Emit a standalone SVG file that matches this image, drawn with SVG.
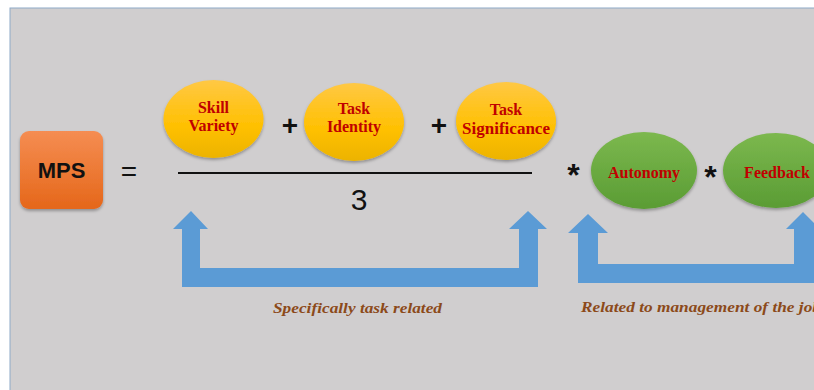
<svg xmlns="http://www.w3.org/2000/svg" width="814" height="390" viewBox="0 0 814 390">
<defs>
<linearGradient id="gOrange" x1="0" y1="0" x2="0" y2="1"><stop offset="0" stop-color="#f58d52"/><stop offset="1" stop-color="#e5671a"/></linearGradient>
<linearGradient id="gYellow" x1="0" y1="0" x2="0" y2="1"><stop offset="0" stop-color="#ffc844"/><stop offset="0.6" stop-color="#ffc000"/><stop offset="1" stop-color="#ecb300"/></linearGradient>
<linearGradient id="gGreen" x1="0" y1="0" x2="0" y2="1"><stop offset="0" stop-color="#7cb84e"/><stop offset="1" stop-color="#5a9c34"/></linearGradient>
<filter id="sh" x="-20%" y="-20%" width="140%" height="150%"><feGaussianBlur in="SourceAlpha" stdDeviation="1.5"/><feOffset dy="2" result="b"/><feFlood flood-color="#000" flood-opacity="0.3"/><feComposite in2="b" operator="in"/><feMerge><feMergeNode/><feMergeNode in="SourceGraphic"/></feMerge></filter>
</defs>
<style>
.node-txt{font-family:"Liberation Serif","Times New Roman",serif;font-weight:bold;font-size:16px;fill:#c00000;text-anchor:middle}
.op{font-family:"Liberation Sans",Arial,sans-serif;fill:#111;text-anchor:middle}
.lbl{font-family:"Liberation Serif","Times New Roman",serif;font-weight:bold;font-style:italic;font-size:15px;fill:#8c4a1a}
.arrow{fill:#5b9bd5}
</style>
<rect x="0" y="0" width="814" height="390" fill="#ffffff"/>
<rect x="10" y="8" width="806" height="384" fill="#d0cecf" stroke="#8ea9c8" stroke-width="1"/>

<g id="mps">
<rect x="20" y="131" width="83" height="78" rx="9" fill="url(#gOrange)" filter="url(#sh)"/>
<text x="61.5" y="178" font-family="'Liberation Sans',Arial,sans-serif" font-weight="bold" font-size="22" text-anchor="middle" fill="#111">MPS</text>
</g>

<g id="equals"><text class="op" x="129" y="181" font-size="28">=</text></g>

<g id="skill-variety">
<ellipse cx="213.5" cy="119" rx="50" ry="39" fill="url(#gYellow)" filter="url(#sh)"/>
<text class="node-txt" x="213.5" y="113" textLength="31" lengthAdjust="spacingAndGlyphs">Skill</text>
<text class="node-txt" x="213.5" y="130.5">Variety</text>
</g>
<g id="plus1"><text class="op" x="290" y="135" font-size="28" font-weight="bold">+</text></g>
<g id="task-identity">
<ellipse cx="354" cy="122" rx="50" ry="39" fill="url(#gYellow)" filter="url(#sh)"/>
<text class="node-txt" x="354" y="113.5">Task</text>
<text class="node-txt" x="354" y="131.5">Identity</text>
</g>
<g id="plus2"><text class="op" x="439" y="135" font-size="28" font-weight="bold">+</text></g>
<g id="task-significance">
<ellipse cx="506" cy="121" rx="50" ry="39" fill="url(#gYellow)" filter="url(#sh)"/>
<text class="node-txt" x="506" y="115">Task</text>
<text class="node-txt" x="506" y="134" textLength="88" lengthAdjust="spacingAndGlyphs">Significance</text>
</g>

<g id="fraction">
<line x1="178" y1="173" x2="532" y2="173" stroke="#111" stroke-width="2.2"/>
<text class="op" x="359" y="210" font-size="30">3</text>
</g>

<g id="star1"><text class="op" x="573.5" y="186" font-size="32" font-weight="bold">*</text></g>
<g id="autonomy">
<ellipse cx="644" cy="170.5" rx="53" ry="38.5" fill="url(#gGreen)" filter="url(#sh)"/>
<text class="node-txt" x="644" y="178" font-size="17">Autonomy</text>
</g>
<g id="star2"><text class="op" x="710.5" y="188" font-size="32" font-weight="bold">*</text></g>
<g id="feedback">
<ellipse cx="776" cy="170.5" rx="53" ry="37.5" fill="url(#gGreen)" filter="url(#sh)"/>
<text class="node-txt" x="777" y="178" font-size="17">Feedback</text>
</g>

<g id="connectors">
<polygon class="arrow" points="191,211 208,229 200,229 200,268 519,268 519,229 509,229 528,211 547,229 538,229 538,287 182,287 182,229 173,229"/>
<polygon class="arrow" points="588,214 608,233 598,233 598,264 794,264 794,229 786,229 803,212 820,229 814,229 814,283 578,283 578,233 568,233"/>
</g>

<g id="labels">
<text class="lbl" x="273" y="313" textLength="169" lengthAdjust="spacingAndGlyphs">Specifically task related</text>
<text class="lbl" x="581" y="312" textLength="240" lengthAdjust="spacingAndGlyphs">Related to management of the job</text>
</g>
</svg>
